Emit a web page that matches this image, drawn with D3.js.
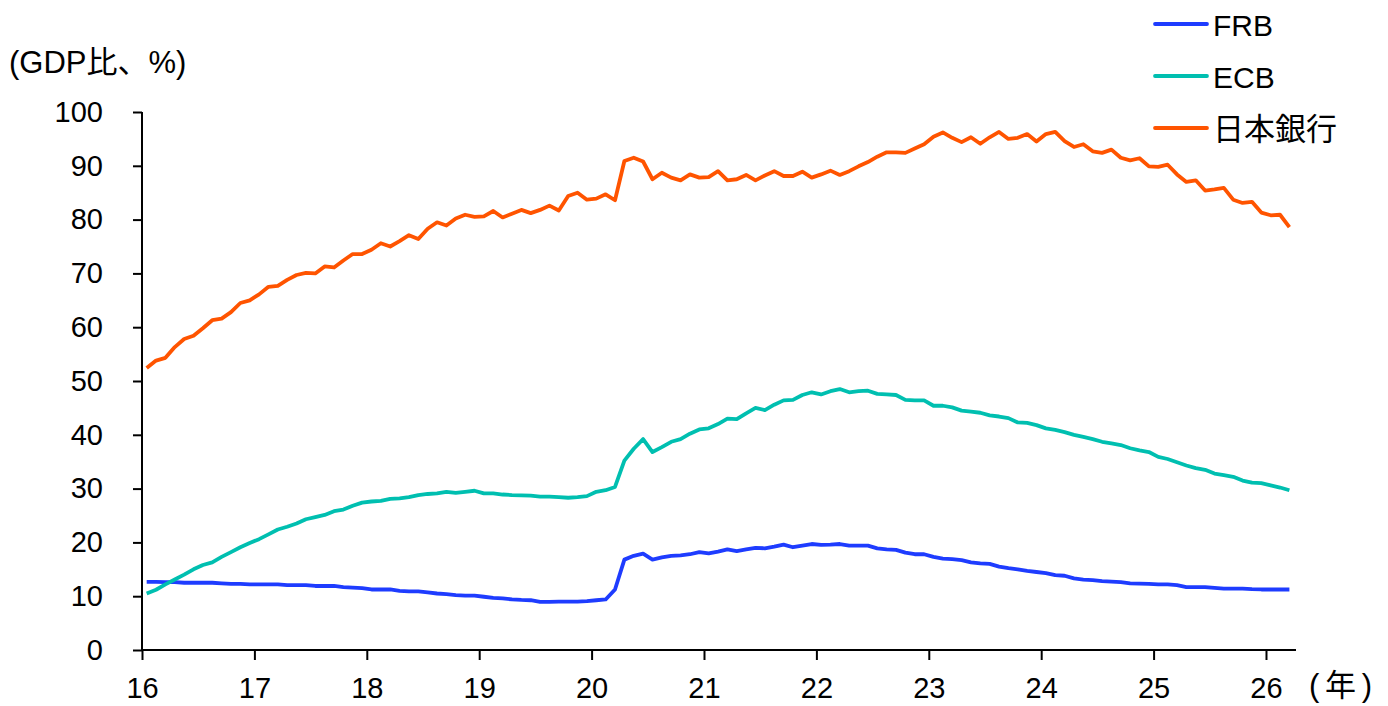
<!DOCTYPE html>
<html>
<head>
<meta charset="utf-8">
<script src="https://cdn.jsdelivr.net/npm/d3@7"></script>
<style>
  html, body { margin: 0; padding: 0; background: #fff; }
  svg { display: block; }
  text { font-family: "Liberation Sans", Arial, "Noto Sans CJK JP", sans-serif; fill: #000; }
</style>
</head>
<body>
<svg id="chart" width="1388" height="706"></svg>
<script>
// Monthly data, Jan 2016 – Mar 2026 (GDP比, %)
const startYear = 16;
const yearTicks = [16, 17, 18, 19, 20, 21, 22, 23, 24, 25, 26];
const yTicks = [0, 10, 20, 30, 40, 50, 60, 70, 80, 90, 100];
const seriesNames = ["FRB", "ECB", "日本銀行"];

const frb = [12.66,12.66,12.6,12.6,12.5,12.5,12.5,12.5,12.4,12.3,12.3,12.2,
  12.2,12.2,12.2,12.05,12.05,12.05,11.9,11.9,11.9,11.7,11.6,11.5,
  11.25,11.25,11.25,11.0,10.9,10.9,10.7,10.5,10.4,10.2,10.1,10.1,
  9.9,9.7,9.6,9.4,9.3,9.25,8.95,8.95,9.0,9.0,9.0,9.1,
  9.25,9.4,11.25,16.8,17.5,17.9,16.8,17.2,17.5,17.6,17.8,18.2,
  17.95,18.3,18.7,18.4,18.7,19.0,18.9,19.2,19.6,19.1,19.4,19.7,
  19.55,19.6,19.7,19.4,19.4,19.4,18.9,18.7,18.6,18.1,17.8,17.8,
  17.3,17.0,16.9,16.7,16.3,16.1,16.0,15.5,15.2,15.0,14.7,14.5,
  14.3,13.9,13.8,13.3,13.1,13.0,12.8,12.7,12.6,12.4,12.35,12.3,
  12.2,12.2,12.05,11.7,11.7,11.7,11.55,11.4,11.4,11.4,11.3,11.25,
  11.25,11.25,11.25];

const ecb = [10.5,11.2,12.2,13.1,14.0,15.0,15.8,16.3,17.3,18.2,19.1,19.9,
  20.6,21.5,22.4,22.9,23.5,24.3,24.7,25.1,25.8,26.1,26.8,27.4,
  27.6,27.7,28.1,28.2,28.4,28.8,29.0,29.1,29.4,29.2,29.4,29.6,
  29.1,29.1,28.9,28.8,28.75,28.7,28.5,28.5,28.4,28.3,28.4,28.6,
  29.4,29.7,30.3,35.2,37.4,39.2,36.8,37.7,38.7,39.2,40.2,41.0,
  41.2,42.0,43.0,42.9,44.0,45.0,44.6,45.6,46.4,46.5,47.4,47.9,
  47.5,48.1,48.5,47.9,48.1,48.2,47.6,47.5,47.4,46.5,46.4,46.4,
  45.4,45.4,45.1,44.5,44.3,44.1,43.6,43.4,43.1,42.3,42.2,41.8,
  41.2,40.9,40.5,40.0,39.6,39.2,38.7,38.4,38.1,37.5,37.1,36.8,
  35.9,35.5,34.9,34.3,33.8,33.5,32.8,32.5,32.2,31.5,31.1,31.0,
  30.6,30.2,29.7];

const boj = [52.4,53.8,54.3,56.3,57.8,58.4,59.8,61.3,61.6,62.8,64.5,65.0,
  66.1,67.5,67.7,68.8,69.7,70.1,70.0,71.3,71.1,72.4,73.6,73.6,
  74.4,75.6,75.0,76.0,77.1,76.4,78.3,79.5,78.9,80.2,80.9,80.5,
  80.6,81.6,80.4,81.1,81.8,81.2,81.8,82.6,81.7,84.4,85.0,83.7,
  83.9,84.7,83.6,90.9,91.5,90.8,87.5,88.7,87.8,87.3,88.4,87.8,
  87.9,89.0,87.3,87.5,88.3,87.3,88.2,89.0,88.1,88.1,88.9,87.8,
  88.4,89.1,88.3,89.0,89.9,90.7,91.7,92.5,92.5,92.4,93.2,94.0,
  95.4,96.2,95.2,94.4,95.3,94.1,95.3,96.3,95.0,95.2,95.9,94.5,
  95.9,96.3,94.6,93.5,94.0,92.7,92.4,93.0,91.5,91.0,91.4,89.9,
  89.8,90.2,88.4,87.0,87.3,85.4,85.6,85.9,83.7,83.1,83.3,81.3,
  80.8,80.9,78.6];

const colors = ["#1E3CFF", "#00BFB0", "#FF5400"];
const allSeries = [frb, ecb, boj];

const svg = d3.select("#chart");
const x = d3.scaleLinear().domain([16, 26.267]).range([142, 1296]);
const y = d3.scaleLinear().domain([0, 100]).range([650, 112]);

// time position of month i (mid-month)
const tOf = i => startYear + (i + 0.5) / 12;

// Y axis
const yAxis = svg.append("g")
  .attr("transform", "translate(142,0)")
  .call(d3.axisLeft(y).tickValues(yTicks).tickSize(9).tickPadding(30).tickFormat(d3.format("d")));
yAxis.select(".domain").attr("stroke", "#000").attr("stroke-width", 2).attr("d", `M0,${y(100)}V${y(0)}`);
yAxis.selectAll(".tick line").attr("stroke", "#000").attr("stroke-width", 2);
yAxis.selectAll(".tick text").style("font-size", "29px").attr("fill", "#000")
  .style("font-family", '"Liberation Sans", Arial, sans-serif');

// X axis
const xAxis = svg.append("g")
  .attr("transform", "translate(0,650)")
  .call(d3.axisBottom(x).tickValues(yearTicks).tickSize(10).tickPadding(17).tickFormat(d3.format("d")));
xAxis.select(".domain").attr("stroke", "#000").attr("stroke-width", 2).attr("d", `M142,0H1296`);
xAxis.selectAll(".tick line").attr("stroke", "#000").attr("stroke-width", 2);
xAxis.selectAll(".tick text").style("font-size", "29px").attr("fill", "#000")
  .style("font-family", '"Liberation Sans", Arial, sans-serif');

// Lines
const line = d3.line().x((d, i) => x(tOf(i))).y(d => y(d));
allSeries.forEach((s, k) => {
  svg.append("path")
    .datum(s)
    .attr("fill", "none")
    .attr("stroke", colors[k])
    .attr("stroke-width", 3.8)
    .attr("stroke-linejoin", "round")
    .attr("d", line);
});

// Unit labels
svg.append("text").attr("x", 9).attr("y", 62).attr("dominant-baseline", "central")
  .style("font-size", "31px").text("(GDP比、%)");
svg.append("text").attr("x", 1309).attr("y", 685).attr("dominant-baseline", "central")
  .style("font-size", "31px").attr("textLength", 63).text("(年)");

// Legend
const leg = svg.append("g");
seriesNames.forEach((name, k) => {
  const ly = 24 + k * 52;
  leg.append("line").attr("x1", 1155).attr("x2", 1207).attr("y1", ly).attr("y2", ly)
    .attr("stroke", colors[k]).attr("stroke-width", 3.8).attr("stroke-linecap", "round");
  leg.append("text").attr("x", 1213).attr("y", ly + 1).attr("dominant-baseline", "central")
    .style("font-size", k === 2 ? "31px" : "30px").text(name);
});
</script>
</body>
</html>
